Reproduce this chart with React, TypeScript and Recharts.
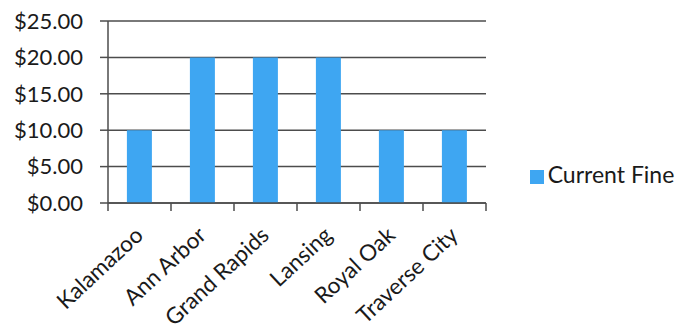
import React from "react";
import { BarChart, Bar, XAxis, YAxis, CartesianGrid, Legend } from "recharts";

const cities = ["Kalamazoo", "Ann Arbor", "Grand Rapids", "Lansing", "Royal Oak", "Traverse City"];
const currentFine = [10, 20, 20, 20, 10, 10];
const yTicks = [0, 5, 10, 15, 20, 25];

const data = cities.map((city, i) => ({ city, fine: currentFine[i] }));

const FONT = "Lato, 'Open Sans', sans-serif";
const LINE = "#4d4d4d";

// category label rotated, plus tick marks on the category boundaries
const CityTick = (props: any) => {
  const { x, y, payload, index, visibleTicksCount } = props;
  const half = payload?.offset ?? 0;
  const last = index === visibleTicksCount - 1;
  const tx = x + 5;
  const ty = y + 34;
  return (
    <g>
      <line x1={x - half} y1={y} x2={x - half} y2={y + 8} stroke={LINE} strokeWidth={1.5} />
      {last && <line x1={x + half} y1={y} x2={x + half} y2={y + 8} stroke={LINE} strokeWidth={1.5} />}
      <text
        x={tx}
        y={ty}
        transform={`rotate(-43, ${tx}, ${ty})`}
        textAnchor="end"
        fontSize={22.5}
        fontFamily={FONT}
        fill="#1a1a1a"
      >
        {payload.value}
      </text>
    </g>
  );
};

export default function App() {
  return (
    <div style={{ width: 680, height: 335, background: "#fff", fontFamily: FONT }}>
      <style>{"body{margin:0}"}</style>
      <BarChart
        width={680}
        height={335}
        data={data}
        margin={{ top: 21, right: 194, bottom: 0, left: 0 }}
        barCategoryGap="30%"
      >
        <CartesianGrid vertical={false} stroke={LINE} strokeWidth={1.5} />
        <XAxis
          dataKey="city"
          height={132}
          interval={0}
          tickSize={0}
          tickMargin={0}
          tickLine={false}
          axisLine={{ stroke: LINE, strokeWidth: 1.5 }}
          tick={<CityTick />}
        />
        <YAxis
          width={108}
          domain={[0, 25]}
          ticks={yTicks}
          interval={0}
          tickSize={8}
          tickMargin={17}
          tickFormatter={(v: number) => `$${v.toFixed(2)}`}
          tick={{ fontSize: 22, fill: "#1a1a1a", fontFamily: FONT }}
          tickLine={{ stroke: LINE, strokeWidth: 1.5 }}
          axisLine={{ stroke: LINE, strokeWidth: 1.5 }}
        />
        <Legend
          layout="horizontal"
          align="center"
          verticalAlign="middle"
          iconType="square"
          iconSize={14}
          wrapperStyle={{ left: 527, top: 160, width: 160, fontSize: 23, fontFamily: FONT }}
          formatter={(value: string) => <span style={{ color: "#1a1a1a" }}>{value}</span>}
        />
        <Bar dataKey="fine" name="Current Fine" fill="#3ea6f2" isAnimationActive={false} />
      </BarChart>
    </div>
  );
}
